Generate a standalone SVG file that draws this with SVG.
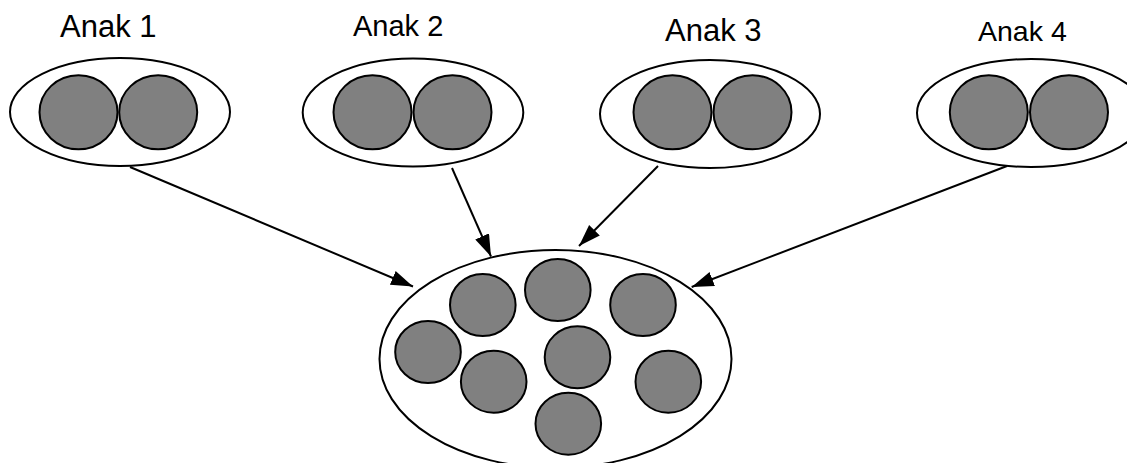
<svg xmlns="http://www.w3.org/2000/svg" width="1127" height="463" viewBox="0 0 1127 463">
<style>
.outer{fill:#fff;stroke:#000;stroke-width:2}
.ball{fill:#808080;stroke:#000;stroke-width:2}
.lbl{font-family:"Liberation Sans",Arial,sans-serif;fill:#000}
.conn{stroke:#000;stroke-width:2;fill:none;marker-end:url(#ah)}
</style>
<defs>
<marker id="ah" markerUnits="userSpaceOnUse" markerWidth="24" markerHeight="16" refX="22" refY="7.5" orient="auto">
<path d="M0,0 L22,7.5 L0,15 z" fill="#000"/>
</marker>
</defs>
<rect width="1127" height="463" fill="#fff"/>
<g id="anak1">
<text class="lbl" x="60" y="37" font-size="31">Anak 1</text>
<ellipse class="outer" cx="120" cy="112" rx="110" ry="54"/>
<ellipse class="ball" cx="78.5" cy="112.3" rx="39" ry="37"/>
<ellipse class="ball" cx="158.2" cy="112.3" rx="39" ry="37"/>
</g>
<g id="anak2">
<text class="lbl" x="353" y="36" font-size="29">Anak 2</text>
<ellipse class="outer" cx="413" cy="112.5" rx="110.3" ry="54"/>
<ellipse class="ball" cx="372.5" cy="112.3" rx="39" ry="37"/>
<ellipse class="ball" cx="452.5" cy="112.3" rx="39" ry="37"/>
</g>
<g id="anak3">
<text class="lbl" x="665" y="40.7" font-size="31">Anak 3</text>
<ellipse class="outer" cx="710" cy="114" rx="110" ry="54"/>
<ellipse class="ball" cx="672.5" cy="112.3" rx="39" ry="37"/>
<ellipse class="ball" cx="752.5" cy="112.3" rx="39" ry="37"/>
</g>
<g id="anak4">
<text class="lbl" x="978" y="41" font-size="28.5">Anak 4</text>
<ellipse class="outer" cx="1031" cy="113" rx="114" ry="54"/>
<ellipse class="ball" cx="988.8" cy="112.3" rx="39" ry="37"/>
<ellipse class="ball" cx="1069" cy="112.3" rx="39" ry="37"/>
</g>
<g id="pool">
<ellipse class="outer" cx="555.5" cy="359" rx="176" ry="109"/>
<ellipse class="ball" cx="482.8" cy="305" rx="32.8" ry="31"/>
<ellipse class="ball" cx="557.8" cy="290" rx="32.8" ry="31"/>
<ellipse class="ball" cx="643" cy="305" rx="32.8" ry="31"/>
<ellipse class="ball" cx="428" cy="352" rx="32.8" ry="31"/>
<ellipse class="ball" cx="577.5" cy="357.3" rx="32.8" ry="31"/>
<ellipse class="ball" cx="493.7" cy="381.7" rx="32.8" ry="31"/>
<ellipse class="ball" cx="668.3" cy="381.7" rx="32.8" ry="31"/>
<ellipse class="ball" cx="568.3" cy="423.7" rx="32.8" ry="31"/>
</g>
<g id="connectors">
<line class="conn" x1="130" y1="167" x2="413" y2="286.5"/>
<line class="conn" x1="452" y1="168" x2="491" y2="256.5"/>
<line class="conn" x1="658" y1="166" x2="579" y2="246"/>
<line class="conn" x1="1007" y1="166" x2="691.7" y2="287"/>
</g>
</svg>
